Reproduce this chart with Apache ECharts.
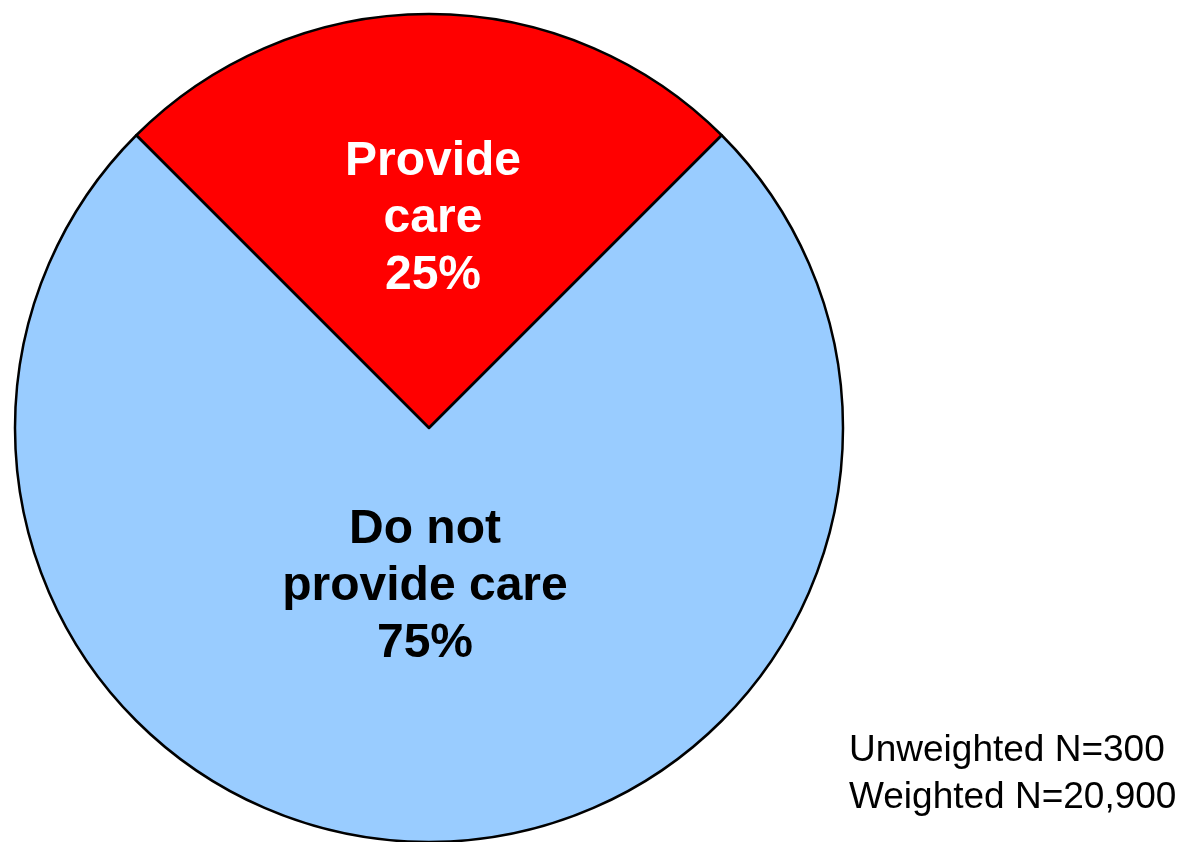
<!DOCTYPE html>
<html>
<head>
<meta charset="utf-8">
<script src="https://cdn.jsdelivr.net/npm/echarts@6/dist/echarts.min.js"></script>
<style>
html,body{margin:0;padding:0;background:#fff;}
#chart{width:1182px;height:842px;}
</style>
</head>
<body>
<div id="chart"></div>
<script>
const categories = ['Provide\ncare', 'Do not\nprovide care'];
const values = [25, 75];
const colors = ['#FF0000', '#99CCFF'];
const labelColors = ['#FFFFFF', '#000000'];
const noteLines = ['Unweighted N=300', 'Weighted N=20,900'];

const FONT = '"Liberation Sans", Arial, Helvetica, sans-serif';
const labelOffsets = [[4, 1], [-4, -51]];

const chart = echarts.init(document.getElementById('chart'), null, {renderer: 'canvas'});
chart.setOption({
  backgroundColor: '#ffffff',
  animation: false,
  title: {
    text: noteLines.join('\n'),
    left: 844,
    top: 722,
    textStyle: {
      fontFamily: FONT,
      fontSize: 37,
      fontWeight: 'normal',
      color: '#000',
      lineHeight: 47
    }
  },
  series: [{
    type: 'pie',
    center: [429, 428],
    radius: [0, 414],
    startAngle: 135,
    clockwise: true,
    silent: true,
    itemStyle: {borderColor: '#000', borderWidth: 2.5},
    label: {
      show: true,
      position: 'inside',
      formatter: '{b}\n{c}%',
      fontFamily: FONT,
      fontSize: 48,
      fontWeight: 'bold',
      lineHeight: 57,
      align: 'center'
    },
    labelLine: {show: false},
    data: categories.map((c, i) => ({
      name: c,
      value: values[i],
      itemStyle: {color: colors[i]},
      label: {color: labelColors[i], offset: labelOffsets[i]}
    }))
  }]
});
</script>
</body>
</html>
